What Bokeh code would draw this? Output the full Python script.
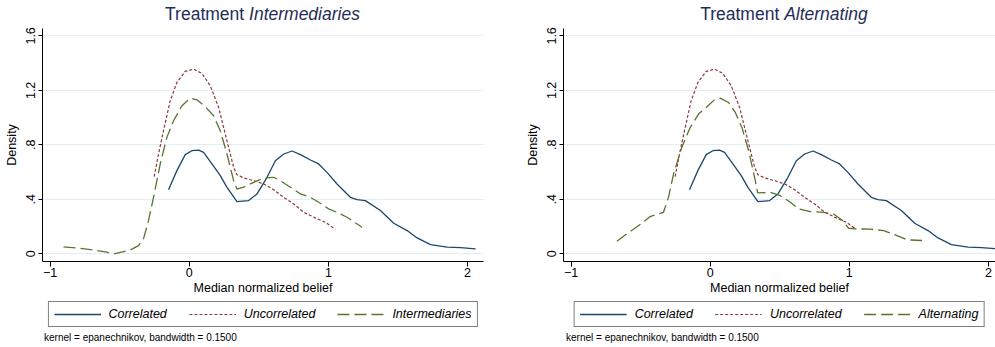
from bokeh.plotting import figure
from bokeh.models import Legend, LegendItem, FixedTicker, Range1d, Div
from bokeh.layouts import row, column
from bokeh.embed import file_html
from bokeh.resources import INLINE

# ---- data ----
corr_x = [-0.149, -0.089, -0.029, 0.019, 0.067, 0.103, 0.163, 0.223, 0.271, 0.343,
          0.427, 0.487, 0.559, 0.619, 0.679, 0.739, 0.799, 0.871, 0.930, 0.990,
          1.062, 1.158, 1.206, 1.266, 1.374, 1.470, 1.566, 1.638, 1.734, 1.854,
          1.950, 2.058]
corr_y = [0.471, 0.611, 0.728, 0.757, 0.762, 0.745, 0.660, 0.574, 0.488, 0.383,
          0.391, 0.440, 0.562, 0.684, 0.733, 0.755, 0.728, 0.689, 0.660, 0.598,
          0.513, 0.415, 0.398, 0.391, 0.318, 0.225, 0.171, 0.117, 0.068, 0.049,
          0.046, 0.037]

uncorr_x = [-0.252, -0.221, -0.185, -0.137, -0.089, -0.029, 0.031, 0.091, 0.151,
            0.211, 0.271, 0.319, 0.343, 0.391, 0.463, 0.535, 0.607, 0.679, 0.751,
            0.823, 0.906, 0.978, 1.050]
uncorr_y = [0.567, 0.733, 0.904, 1.124, 1.258, 1.339, 1.356, 1.324, 1.234,
            1.075, 0.830, 0.635, 0.581, 0.557, 0.537, 0.513, 0.471, 0.415, 0.366,
            0.305, 0.264, 0.232, 0.181]

inter_x = [-0.904, -0.808, -0.688, -0.592, -0.544, -0.424, -0.365, -0.329, -0.293,
           -0.257, -0.209, -0.161, -0.113, -0.053, 0.007, 0.055, 0.115, 0.175,
           0.223, 0.271, 0.319, 0.343, 0.391, 0.463, 0.535, 0.607, 0.655, 0.727,
           0.799, 0.871, 0.942, 1.002, 1.062, 1.134, 1.242]
inter_y = [0.051, 0.044, 0.029, 0.012, 0.000, 0.029, 0.061, 0.110, 0.244,
           0.415, 0.659, 0.855, 0.977, 1.087, 1.143, 1.131, 1.080, 1.014,
           0.904, 0.733, 0.537, 0.476, 0.489, 0.525, 0.557, 0.562, 0.537, 0.489,
           0.440, 0.415, 0.371, 0.330, 0.305, 0.269, 0.195]

alt_x = [-0.671, -0.600, -0.504, -0.432, -0.336, -0.300, -0.264, -0.204, -0.144,
         -0.084, -0.024, 0.036, 0.072, 0.132, 0.180, 0.228, 0.276, 0.324, 0.341,
         0.432, 0.504, 0.576, 0.636, 0.719, 0.815, 0.887, 0.947, 0.995, 1.067,
         1.151, 1.247, 1.343, 1.415, 1.523]
alt_y = [0.093, 0.147, 0.215, 0.274, 0.305, 0.415, 0.586, 0.782, 0.928,
         1.026, 1.080, 1.136, 1.143, 1.111, 1.038, 0.928, 0.757, 0.537, 0.447,
         0.452, 0.427, 0.379, 0.330, 0.310, 0.305, 0.293, 0.249, 0.188, 0.183,
         0.181, 0.171, 0.134, 0.103, 0.098]

x_ticks = [-1, 0, 1, 2]
y_ticks = [0, 0.4, 0.8, 1.2, 1.6]
y_tick_labels = ["0", ".4", ".8", "1.2", "1.6"]
series_labels = ["Correlated", "Uncorrelated"]
treatments = ["Intermediaries", "Alternating"]
footnote = "kernel = epanechnikov, bandwidth = 0.1500"

FONT = "Liberation Sans"
NAVY = "#1a476f"
MAROON = "#90353b"
GREEN = "#55752f"
TITLE_COL = "#1f2d5c"

TITLE_H = 24
FIG_H = 275
LEG_H = 30
FOOT_H = 18

STYLES = [dict(line_color=NAVY, line_width=1.3),
          dict(line_color=MAROON, line_width=1.2, line_dash="3 2"),
          dict(line_color=GREEN, line_width=1.3, line_dash="12 5")]


def make_panel(treat, tx, ty, width, mb_left, mb_right, x_end, title_w, foot_left):
    title = Div(text=(f'<div style="margin-left:{mb_left}px; width:{title_w}px; '
                      f'padding-top:5px; line-height:19px; text-align:center; '
                      f'font-family:\'{FONT}\'; font-size:17.5px; color:{TITLE_COL}; '
                      f'white-space:nowrap;">Treatment <i>{treat}</i></div>'),
                width=width, height=TITLE_H, margin=0)

    p = figure(width=width, height=FIG_H, output_backend="svg", toolbar_location=None,
               x_range=Range1d(-1.055, x_end), y_range=Range1d(-0.056, 1.654),
               min_border_left=mb_left, min_border_right=mb_right,
               min_border_top=4, min_border_bottom=38)
    p.title.visible = False
    p.outline_line_color = None
    p.background_fill_color = "white"
    p.border_fill_color = "white"

    series = [(corr_x, corr_y), (uncorr_x, uncorr_y), (tx, ty)]
    for (sx, sy), st in zip(series, STYLES):
        p.line(sx, sy, **st)

    for ax in (p.xaxis[0], p.yaxis[0]):
        ax.axis_line_color = "black"
        ax.axis_line_width = 1
        ax.major_tick_line_color = "black"
        ax.major_tick_in = 0
        ax.minor_tick_line_color = None
        ax.major_label_text_font = FONT
        ax.major_label_text_font_size = "12.5px"
        ax.major_label_text_color = "black"
        ax.axis_label_text_font = FONT
        ax.axis_label_text_font_size = "12.5px"
        ax.axis_label_text_font_style = "normal"
        ax.axis_label_text_color = "black"
    p.xaxis.ticker = FixedTicker(ticks=x_ticks)
    p.xaxis.major_tick_out = 5
    p.xaxis.major_label_standoff = 1
    p.xaxis.axis_label = "Median normalized belief"
    p.xaxis.axis_label_standoff = 1

    p.yaxis.ticker = FixedTicker(ticks=y_ticks)
    p.yaxis.major_label_overrides = {t: l for t, l in zip(y_ticks, y_tick_labels)}
    p.yaxis.major_label_orientation = "parallel"
    p.yaxis.major_tick_out = 4
    p.yaxis.major_label_standoff = 3
    p.yaxis.axis_label = "Density"
    p.yaxis.axis_label_standoff = 5

    p.xgrid.visible = False
    p.ygrid.ticker = FixedTicker(ticks=y_ticks)
    p.ygrid.grid_line_color = "#e4eef0"
    p.ygrid.grid_line_width = 1

    # legend strip: its own small figure; the series are drawn there out of view
    # (ranges far from the data) so that only the legend samples show
    lg = figure(width=width, height=LEG_H, output_backend="svg", toolbar_location=None,
                x_axis_type=None, y_axis_type=None,
                x_range=Range1d(10, 11), y_range=Range1d(10, 11),
                min_border_left=mb_left, min_border_right=mb_right,
                min_border_top=0, min_border_bottom=0)
    lg.title.visible = False
    lg.outline_line_color = None
    lg.border_fill_color = "white"
    rs = [lg.line(sx, sy, **st) for (sx, sy), st in zip(series, STYLES)]
    names = series_labels + [treat]
    legend = Legend(items=[LegendItem(label=n, renderers=[r]) for n, r in zip(names, rs)],
                    orientation="horizontal", location="center",
                    border_line_color="black", border_line_width=1.3,
                    background_fill_color="white", background_fill_alpha=1,
                    label_text_font=FONT, label_text_font_size="12.5px",
                    label_text_font_style="italic", label_text_color="black",
                    glyph_width=47, glyph_height=14, label_height=14,
                    label_standoff=8, spacing=22, padding=5, margin=0)
    lg.add_layout(legend)

    foot = Div(text=(f'<div style="margin-left:{foot_left}px; line-height:14px; '
                     f'font-family:\'{FONT}\'; font-size:10px; color:black; '
                     f'white-space:nowrap;">{footnote}</div>'),
               width=width, height=FOOT_H, margin=0)
    return column(title, p, lg, foot, spacing=0)


left = make_panel(treatments[0], inter_x, inter_y, 497, 42, 14, 2.115, 441, 44)
right = make_panel(treatments[1], alt_x, alt_y, 498, 66, 0, 2.051, 442, 69)

page = row(left, right, spacing=0)
open("out.html", "w").write(file_html(page, INLINE))
